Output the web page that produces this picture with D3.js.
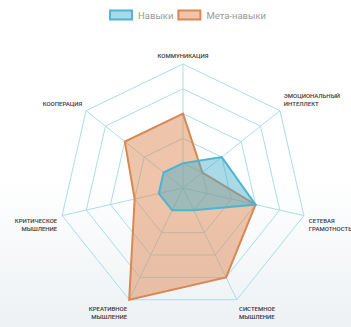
<!DOCTYPE html>
<html>
<head>
<meta charset="utf-8">
<script src="https://cdn.jsdelivr.net/npm/d3@7"></script>
<style>
  html, body { margin: 0; padding: 0; background: #fff; }
  svg { display: block; }
</style>
</head>
<body>
<svg id="chart" width="351" height="327"></svg>
<script>
// Axes of the radar, clockwise from the top
const axes = [
  ["КОММУНИКАЦИЯ"],
  ["ЭМОЦИОНАЛЬНЫЙ", "ИНТЕЛЛЕКТ"],
  ["СЕТЕВАЯ", "ГРАМОТНОСТЬ"],
  ["СИСТЕМНОЕ", "МЫШЛЕНИЕ"],
  ["КРЕАТИВНОЕ", "МЫШЛЕНИЕ"],
  ["КРИТИЧЕСКОЕ", "МЫШЛЕНИЕ"],
  ["КООПЕРАЦИЯ"]
];
const seriesNames = ["Навыки", "Мета-навыки"];
const skills     = [1, 2, 3, 1, 1, 1, 1];
const metaSkills = [3, 1, 3, 4, 5, 2, 3];
const gridLevels = [1, 2, 3, 4, 5];

const W = 351, H = 327;
const cx = 183, cy = 188, R = 124;
const svg = d3.select("#chart");

// soft backdrop fading to grey at the bottom
const defs = svg.append("defs");
const grad = defs.append("linearGradient").attr("id", "bg").attr("x1", 0).attr("y1", 0).attr("x2", 0).attr("y2", 1);
grad.append("stop").attr("offset", "0.55").attr("stop-color", "#ffffff");
grad.append("stop").attr("offset", "1").attr("stop-color", "#edf1f4");
svg.append("rect").attr("width", W).attr("height", H).attr("fill", "url(#bg)");

const n = axes.length;
const angle = d3.scaleLinear().domain([0, n]).range([0, 2 * Math.PI]);
const r = d3.scaleLinear().domain([0, 5]).range([0, R]);

const g = svg.append("g").attr("transform", `translate(${cx},${cy})`);
const gridColor = "#abdde9";

// heptagon rings
const ring = d3.lineRadial().curve(d3.curveLinearClosed)
  .angle((d, i) => angle(i)).radius(d => r(d));
g.selectAll("path.ring").data(gridLevels).join("path")
  .attr("class", "ring")
  .attr("d", lv => ring(d3.range(n).map(() => lv)))
  .attr("fill", "none").attr("stroke", gridColor).attr("stroke-width", 1);

// spokes
g.selectAll("line.spoke").data(d3.range(n)).join("line")
  .attr("class", "spoke")
  .attr("x1", 0).attr("y1", 0)
  .attr("x2", i => r(5) * Math.sin(angle(i)))
  .attr("y2", i => -r(5) * Math.cos(angle(i)))
  .attr("stroke", gridColor).attr("stroke-width", 1);

// data polygons (first series drawn last so it sits on top)
const series = [
  { name: seriesNames[1], values: metaSkills, fill: "rgba(221,137,86,0.5)", stroke: "#d98753" },
  { name: seriesNames[0], values: skills, fill: "rgba(66,172,204,0.45)", stroke: "#4db4d2" }
];
const area = d3.lineRadial().curve(d3.curveLinearClosed)
  .angle((d, i) => angle(i)).radius(d => r(d));
g.selectAll("path.series").data(series).join("path")
  .attr("class", "series")
  .attr("d", s => area(s.values))
  .attr("fill", s => s.fill)
  .attr("stroke", s => s.stroke)
  .attr("stroke-width", 2)
  .attr("stroke-linejoin", "miter");

// point labels
const pad = 5, lineH = 8;
axes.forEach((lines, i) => {
  const a = angle(i);
  const deg = a * 180 / Math.PI;
  const x = (R + pad) * Math.sin(a);
  let y = -(R + pad) * Math.cos(a);
  const h = lines.length * lineH;
  let anchor = "middle";
  if (Math.abs(deg) < 1 || Math.abs(deg - 180) < 1) anchor = "middle";
  else if (deg < 180) anchor = "start";
  else anchor = "end";
  if (deg < 90 || deg > 270) y -= h;
  const t = g.append("text")
    .attr("font-family", "Roboto, 'Open Sans', sans-serif")
    .attr("font-size", 6)
    .attr("font-weight", 500)
    .attr("fill", "#3a3a3a")
    .attr("text-anchor", anchor);
  lines.forEach((ln, k) => {
    t.append("tspan").attr("x", x).attr("y", y + lineH * k + lineH / 2)
      .attr("dominant-baseline", "central").text(ln);
  });
});

// legend
const legendItems = [
  { name: seriesNames[0], fill: "rgba(66,172,204,0.45)", stroke: "#4db4d2" },
  { name: seriesNames[1], fill: "rgba(221,137,86,0.5)", stroke: "#d98753" }
];
const lg = svg.append("g");
let lx = 110;
legendItems.forEach(it => {
  lg.append("rect").attr("x", lx).attr("y", 10.5).attr("width", 22).attr("height", 9)
    .attr("fill", it.fill).attr("stroke", it.stroke).attr("stroke-width", 2);
  const t = lg.append("text").attr("x", lx + 28).attr("y", 15.5)
    .attr("dominant-baseline", "central")
    .attr("font-family", "Roboto, 'Open Sans', sans-serif")
    .attr("font-size", 9.5).attr("fill", "#999999").text(it.name);
  lx += 28 + t.node().getComputedTextLength() + 5;
});
</script>
</body>
</html>
